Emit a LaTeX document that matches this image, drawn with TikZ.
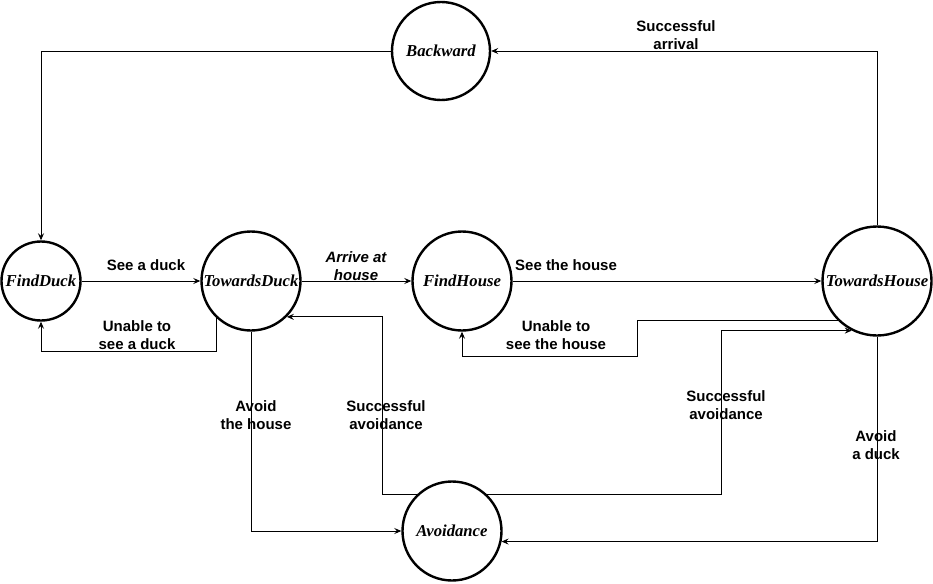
\documentclass[tikz,border=0pt]{standalone}
\usepackage{fontspec}
\setmainfont{Liberation Serif}
\newfontfamily\sansfam{Liberation Sans}
\usetikzlibrary{arrows.meta}
\tikzset{
  stnode/.style={circle, draw, line width=2.4pt, inner sep=0pt, minimum size=#1,
    font=\bfseries\itshape\fontsize{16.7}{19}\selectfont},
  lbl/.style={align=center, inner sep=0pt, font=\sansfam\bfseries\fontsize{15}{18}\selectfont},
  ilbl/.style={lbl, font=\sansfam\bfseries\itshape\fontsize{15}{18}\selectfont},
  arr/.style={line width=0.9pt, -{Stealth[length=7pt,width=6pt,inset=2.5pt]}},
}
\begin{document}
\begin{tikzpicture}[x=1pt,y=-1pt]
\useasboundingbox (0,0) rectangle (933,583);
% states
\node[stnode=98pt] (B)  at (441,51)  {Backward};
\node[stnode=79pt] (FD) at (41,281)  {FindDuck};
\node[stnode=99pt] (TD) at (251,281) {TowardsDuck};
\node[stnode=99pt] (FH) at (462,281) {FindHouse};
\node[stnode=109pt] (TH) at (877,281) {TowardsHouse};
\node[stnode=99pt] (A)  at (452,531) {Avoidance};
% bend references
\coordinate (k1) at (637,356);
\coordinate (k2) at (382,0);
\coordinate (k3) at (721,0);
\coordinate (k4) at (0,351);
% connectors
\draw[arr] (B.west) -| (FD.north);
\draw[arr] (TH.north) |- (B.east);
\draw[arr] (FD.east) -- (TD.west);
\draw[arr] (TD.227) |- (k4 -| FD.south) -- (FD.south);
\draw[arr] (TD.east) -- (FH.west);
\draw[arr] (FH.east) -- (TH.west);
\draw[arr] (TH.225) -| (k1) -| (FH.south);
\draw[arr] (A.134) -| (k2 |- TD.315) -- (TD.315);
\draw[arr] (A.46) -| (k3 |- TH.243) -- (TH.243);
\draw[arr] (TD.south) |- (A.west);
\draw[arr] (TH.south) |- (A.348);
% labels
\node[lbl]  (l1) at (676,35)  {Successful\\arrival};
\node[lbl]  (l2) at (146,265) {See a duck};
\node[lbl]  (l3) at (137,335) {Unable to\\see a duck};
\node[ilbl] (l4) at (356,266) {Arrive at\\house};
\node[lbl]  (l5) at (566,265) {See the house};
\node[lbl]  (l6) at (556,335) {Unable to\\see the house};
\node[lbl]  (l7) at (256,415) {Avoid\\the house};
\node[lbl]  (l8) at (386,415) {Successful\\avoidance};
\node[lbl]  (l9) at (726,405) {Successful\\avoidance};
\node[lbl]  (l10) at (876,445) {Avoid\\a duck};
\end{tikzpicture}
\end{document}
